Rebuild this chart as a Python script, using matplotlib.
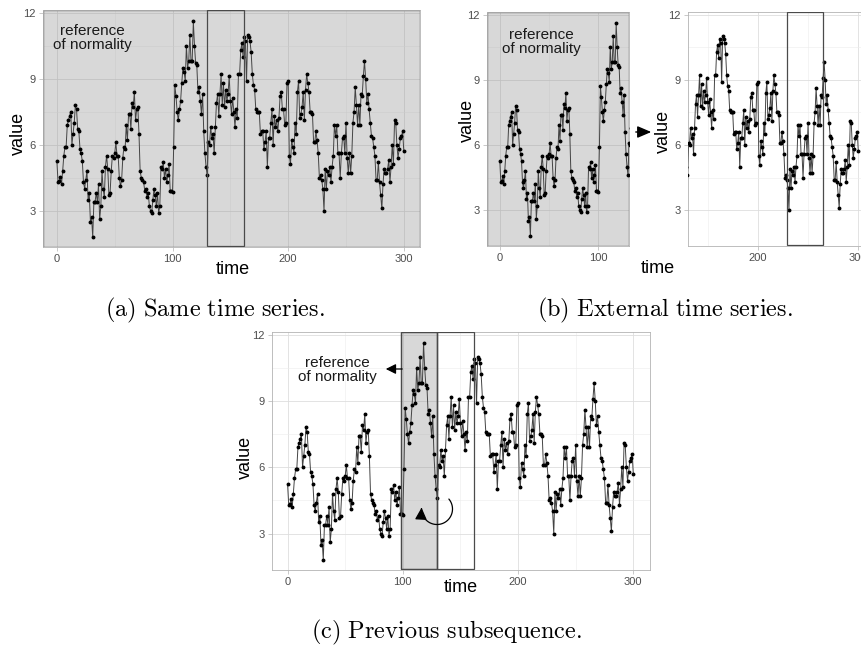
import numpy as np
import matplotlib
matplotlib.use("Agg")
import matplotlib.pyplot as plt
from matplotlib.patches import Rectangle, FancyArrowPatch
from matplotlib.path import Path

plt.rcParams['font.family'] = ['Liberation Sans', 'DejaVu Sans']
plt.rcParams['mathtext.fontset'] = 'cm'

# ---------------- data ----------------
values = [
    5.25, 4.3, 4.35, 4.55, 4.2, 4.8, 5.5, 5.9, 5.9, 6.9,
    7.1, 7.3, 7.5, 6.0, 6.5, 7.0, 7.8, 7.6, 6.7, 6.6,
    5.8, 5.6, 5.25, 4.3, 4.0, 4.4, 4.8, 3.5, 3.8, 2.5,
    2.7, 1.8, 3.4, 3.4, 3.8, 3.4, 4.2, 2.6, 3.2, 4.8,
    4.0, 3.6, 5.0, 5.5, 4.9, 3.7, 3.8, 4.8, 5.5, 5.4,
    5.6, 6.1, 5.5, 5.5, 4.5, 4.1, 4.4, 5.4, 5.9, 5.8,
    6.9, 6.2, 7.4, 7.4, 6.7, 7.9, 7.7, 8.4, 7.1, 7.6,
    7.7, 6.5, 4.8, 4.5, 4.4, 4.3, 3.9, 4.0, 3.6, 3.8,
    3.2, 3.0, 2.9, 3.5, 4.0, 3.7, 3.2, 3.8, 2.9, 3.2,
    5.0, 4.9, 5.2, 4.5, 4.9, 4.3, 4.6, 5.1, 3.9, 3.9,
    3.85, 5.9, 8.7, 8.2, 7.5, 7.1, 7.6, 8.0, 8.8, 9.5,
    9.3, 8.9, 10.5, 9.5, 9.8, 11.0, 9.8, 9.8, 11.6, 10.5,
    9.7, 9.6, 8.4, 8.6, 8.0, 7.4, 8.3, 6.6, 5.6, 5.0,
    4.6, 6.1, 6.0, 6.8, 6.3, 6.5, 5.6, 6.8, 7.9, 8.3,
    7.3, 8.3, 9.2, 7.8, 8.8, 7.7, 8.5, 8.0, 8.3, 9.1,
    8.0, 7.4, 8.1, 7.5, 6.8, 7.6, 7.2, 9.2, 9.2, 10.3,
    10.6, 10.0, 10.9, 10.7, 8.9, 11.0, 10.9, 10.7, 10.2, 9.2,
    8.7, 8.5, 7.6, 7.5, 7.5, 7.5, 6.5, 6.6, 6.6, 5.8,
    6.1, 6.6, 5.0, 6.3, 6.3, 7.0, 7.6, 6.0, 7.3, 6.8,
    7.1, 6.6, 7.2, 8.2, 8.4, 7.6, 7.6, 6.9, 7.0, 8.8,
    8.9, 5.5, 5.1, 6.2, 5.9, 5.6, 7.0, 6.5, 8.4, 8.9,
    7.2, 7.4, 7.7, 8.4, 7.1, 8.5, 9.2, 8.8, 8.4, 7.5,
    7.5, 7.4, 6.1, 6.1, 6.6, 6.2, 5.6, 4.5, 4.6, 4.4,
    4.0, 3.0, 4.9, 4.0, 4.8, 4.6, 5.0, 4.3, 5.0, 5.5,
    6.9, 6.4, 6.9, 5.6, 5.6, 4.5, 5.6, 6.3, 6.4, 5.6,
    7.0, 5.4, 4.7, 5.6, 4.7, 5.5, 7.0, 7.5, 8.6, 7.8,
    6.9, 7.8, 6.9, 8.3, 8.2, 9.1, 9.8, 9.0, 7.9, 8.3,
    7.6, 7.0, 6.4, 6.3, 5.9, 5.5, 4.4, 4.4, 5.2, 4.3,
    3.7, 3.1, 4.2, 4.9, 4.7, 4.7, 4.9, 5.3, 4.3, 5.0,
    6.0, 5.1, 7.1, 7.0, 6.0, 5.4, 5.8, 6.3, 6.4, 6.6,
    5.7,
]
time = list(range(len(values)))

x_ticks = [0, 100, 200, 300]
y_ticks = [3, 6, 9, 12]

# windows (time ranges)
ref_window_c = (98.5, 130)     # reference of normality in (c)
test_window = (130, 162)       # analysed subsequence in (a) and (c)
test_window_b = (229, 265)     # analysed subsequence in (b)

captions = [r'$\mathrm{(a)\ Same\ time\ series.}$',
            r'$\mathrm{(b)\ External\ time\ series.}$',
            r'$\mathrm{(c)\ Previous\ subsequence.}$']

# ---------------- figure ----------------
W, H = 861, 647
fig = plt.figure(figsize=(W / 100, H / 100), dpi=100)

YLIM = (1.35, 12.12)
RECT_Y = (1.38, 12.1)


def add_ax(l, t, r, b):
    return fig.add_axes([l / W, 1 - b / H, (r - l) / W, (b - t) / H])


def style(ax, xlim):
    ax.set_xticks(x_ticks)
    ax.set_yticks(y_ticks)
    ax.set_xticks([50, 150, 250], minor=True)
    ax.set_yticks([4.5, 7.5, 10.5], minor=True)
    ax.set_xlim(*xlim)
    ax.set_ylim(*YLIM)
    ax.grid(True, which='major', color='#dedede', lw=0.6, zorder=0)
    ax.grid(True, which='minor', color='#ececec', lw=0.4, zorder=0)
    ax.set_axisbelow(True)
    for s in ax.spines.values():
        s.set_color('#b3b3b3')
        s.set_linewidth(0.6)
    ax.tick_params(which='major', length=3, width=0.5, color='#b3b3b3',
                   labelsize=8, labelcolor='#4d4d4d', pad=2)
    ax.tick_params(which='minor', length=0)


def series(ax):
    ax.plot(time, values, color='#444444', lw=0.7, zorder=3)
    ax.plot(time, values, 'o', color='black', ms=1.8, zorder=4)


def rect(ax, x0, x1, fill):
    ax.add_patch(Rectangle((x0, RECT_Y[0]), x1 - x0, RECT_Y[1] - RECT_Y[0],
                           facecolor=(0.5, 0.5, 0.5, 0.3) if fill else 'none',
                           edgecolor='#4a4a4a', lw=0.9,
                           zorder=2 if fill else 5))


def full_shade(ax):
    ax.add_patch(Rectangle((0, 0), 1, 1, transform=ax.transAxes,
                           facecolor=(0.5, 0.5, 0.5, 0.3),
                           edgecolor='#6a6a6a', lw=1.0, zorder=2))


def ref_text(x, y, size=11):
    fig.text(x / W, 1 - y / H, 'reference\nof normality', ha='center',
             va='center', fontsize=size, color='#1a1a1a', linespacing=1.0)


def axis_title(x, y, s, rot=0):
    fig.text(x / W, 1 - y / H, s, ha='center', va='center', fontsize=13,
             rotation=rot, color='black')

# ----- panel (a) -----
axA = add_ax(43, 10, 420, 247)
style(axA, (-12, 314))
full_shade(axA)
rect(axA, *test_window, fill=False)
series(axA)
ref_text(92, 38)
axis_title(18, 133, 'value', 90)
axis_title(233, 270, 'time')

# ----- panel (b) left -----
axB1 = add_ax(487, 12, 629, 246)
style(axB1, (-13, 131))
full_shade(axB1)
series(axB1)
axB1.set_xlim(-13, 131)
ref_text(541, 42)
axis_title(467, 120, 'value', 90)
axis_title(658, 269, 'time')

# ----- panel (b) right -----
axB2 = add_ax(688, 12, 861, 246)
style(axB2, (130.5, 302.7))
rect(axB2, *test_window_b, fill=False)
series(axB2)
axB2.set_xlim(130.5, 302.7)
axis_title(663, 131, 'value', 90)
fig.add_artist(FancyArrowPatch((633 / W, 1 - 132 / H), (654 / W, 1 - 132 / H),
                               transform=fig.transFigure,
                               arrowstyle='-|>,head_length=0.7,head_width=0.3',
                               mutation_scale=12, color='black', lw=1.0))

# ----- panel (c) -----
axC = add_ax(272, 332, 650, 570)
style(axC, (-13.5, 314.5))
rect(axC, *ref_window_c, fill=True)
rect(axC, *ref_window_c, fill=False)
rect(axC, *test_window, fill=False)
series(axC)
ref_text(337, 370)
axis_title(245, 457, 'value', 90)
axis_title(461, 587, 'time')
fig.add_artist(FancyArrowPatch((405 / W, 1 - 369 / H), (383 / W, 1 - 369 / H),
                               transform=fig.transFigure,
                               arrowstyle='-|>,head_length=0.5,head_width=0.25',
                               mutation_scale=12, color='black', lw=0.9))

# circular arrow
cx, cy, r = 4.37, (647 - 509) / 100, 0.155
ang = np.radians(np.linspace(40, -185, 60))
pts = np.column_stack([cx + r * np.cos(ang), cy + r * np.sin(ang)])
arc_path = Path(pts)
fig.add_artist(FancyArrowPatch(path=arc_path, transform=fig.dpi_scale_trans,
                               arrowstyle='-|>,head_length=0.6,head_width=0.3',
                               mutation_scale=12, color='black', lw=0.9))

# ----- captions -----
fig.text(215 / W, 1 - 310 / H, captions[0], ha='center', va='center', fontsize=17.5)
fig.text(665 / W, 1 - 310 / H, captions[1], ha='center', va='center', fontsize=17.5)
fig.text(447 / W, 1 - 632 / H, captions[2], ha='center', va='center', fontsize=17.5)

fig.savefig('out.png', dpi=100)
